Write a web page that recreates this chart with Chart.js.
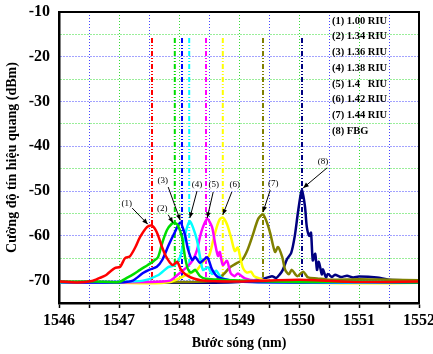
<!DOCTYPE html>
<html lang="vi">
<head>
  <meta charset="UTF-8">
  <title>Phổ tín hiệu quang</title>
  <style>
    body {
      margin: 0;
      background: #ffffff;
    }
    #wrap {
      width: 433px;
      height: 354px;
    }
  </style>
  <script src="https://cdn.jsdelivr.net/npm/chart.js"></script>
</head>
<body>
  <div id="wrap">
    <canvas id="spectrum" width="433" height="354"></canvas>
  </div>

  <script>
    // wavelength (nm) / power (dBm), one pair per trace
    const wl1 = [1546, 1546.3, 1546.55, 1546.68, 1546.78, 1546.85, 1546.93, 1547.02, 1547.1, 1547.18, 1547.27, 1547.35, 1547.47, 1547.55, 1547.63, 1547.72, 1547.78, 1547.85, 1547.9, 1547.97, 1548.03, 1548.1, 1548.2, 1548.4, 1549, 1550, 1551, 1552];
    const p1 = [-70.2, -70.4, -70.1, -69.4, -68.8, -68, -67.2, -66.9, -65, -64.6, -62.6, -60.3, -58, -57.7, -59.2, -62.6, -64.5, -66, -66.5, -65.8, -67.5, -68.5, -69.3, -70, -70.2, -69.8, -70.3, -70.2];

    const wl2 = [1546, 1546.6, 1547.0, 1547.13, 1547.25, 1547.35, 1547.48, 1547.58, 1547.65, 1547.72, 1547.8, 1547.88, 1547.93, 1547.98, 1548.05, 1548.1, 1548.15, 1548.2, 1548.27, 1548.35, 1548.45, 1549, 1550, 1551, 1552];
    const p2 = [-70.3, -70.2, -70.3, -69.4, -68.5, -67.6, -66.5, -65.6, -64.8, -61.6, -58.7, -57.3, -57.1, -57.6, -60.3, -64.7, -67.5, -68.2, -67.6, -69, -69.6, -70, -70.3, -70.2, -70.4];

    const wl3 = [1546, 1547, 1547.23, 1547.4, 1547.5, 1547.63, 1547.72, 1547.83, 1547.93, 1548.02, 1548.1, 1548.15, 1548.22, 1548.27, 1548.35, 1548.47, 1548.55, 1548.65, 1549, 1550, 1551, 1552];
    const p3 = [-70.3, -70.4, -70.0, -68.3, -67.6, -66.9, -65.4, -62, -59.2, -57.0, -59.8, -63, -65.4, -64.7, -66, -64.8, -67.5, -69.2, -70.2, -70.4, -70.3, -70.5];

    const wl4 = [1546, 1547, 1547.4, 1547.65, 1547.82, 1547.93, 1548.02, 1548.07, 1548.13, 1548.18, 1548.23, 1548.3, 1548.35, 1548.4, 1548.48, 1548.55, 1548.62, 1548.7, 1548.8, 1549, 1550, 1551, 1552];
    const p4 = [-70.4, -70.3, -70.0, -68.8, -67, -66.5, -64.7, -61.6, -58.3, -56.7, -58, -61, -64.7, -67.6, -67.0, -68.5, -67.8, -69.3, -69.8, -70.2, -70.4, -70.5, -70.4];

    const wl5 = [1546, 1547.5, 1547.85, 1547.97, 1548.13, 1548.23, 1548.3, 1548.35, 1548.4, 1548.47, 1548.55, 1548.6, 1548.65, 1548.68, 1548.73, 1548.8, 1548.86, 1548.93, 1548.98, 1549.1, 1549.3, 1550, 1551, 1552];
    const p5 = [-70.5, -70.3, -70, -68.8, -67, -65.4, -63.2, -60.2, -58, -56.2, -58, -61.6, -64.5, -63.6, -66.5, -65.6, -68.3, -69, -68.4, -69.5, -70, -70.3, -70.4, -70.5];

    const wl6 = [1546, 1547, 1547.5, 1547.85, 1548.0, 1548.15, 1548.3, 1548.4, 1548.5, 1548.57, 1548.63, 1548.68, 1548.73, 1548.8, 1548.87, 1548.93, 1548.98, 1549.03, 1549.07, 1549.13, 1549.2, 1549.25, 1549.32, 1549.45, 1550, 1551, 1552];
    const p6 = [-70.4, -70.5, -70.6, -70.3, -69.5, -68.5, -67.6, -65.8, -64.5, -61, -58, -56.3, -55.9, -57.4, -60.5, -63.4, -62.6, -65.4, -67.3, -68.2, -68, -69, -69.4, -70, -70.4, -70.6, -70.5];

    const wl7 = [1546, 1547, 1548, 1548.6, 1548.75, 1548.85, 1548.95, 1549.05, 1549.14, 1549.23, 1549.32, 1549.4, 1549.47, 1549.52, 1549.6, 1549.65, 1549.72, 1549.77, 1549.83, 1549.88, 1549.97, 1550.07, 1550.15, 1550.3, 1550.5, 1551, 1551.5, 1552];
    const p7 = [-70.2, -70.4, -70.3, -70, -68.5, -67, -66.2, -65.4, -63.2, -59.8, -56.2, -55.2, -57.2, -59.4, -63.6, -62.5, -64.7, -67.6, -68.6, -67.6, -69, -68, -69.3, -69.5, -69.8, -69.7, -69.8, -69.9];

    const wl8 = [1546, 1547, 1548, 1549, 1549.4, 1549.55, 1549.62, 1549.68, 1549.73, 1549.8, 1549.87, 1549.93, 1549.98, 1550.03, 1550.05, 1550.1, 1550.13, 1550.17, 1550.2, 1550.23, 1550.27, 1550.3, 1550.33, 1550.38, 1550.4, 1550.45, 1550.48, 1550.55, 1550.6, 1550.7, 1550.8, 1550.9, 1551, 1551.3, 1551.5, 1552];
    const p8 = [-70.4, -70.3, -70.5, -70.3, -69.6, -69.0, -69.4, -68.6, -67.6, -65.2, -63.8, -60, -55, -50.6, -49.8, -53.5, -58, -60, -59.3, -65.5, -64, -67.6, -65.8, -68.6, -67.5, -69.3, -68.5, -69.2, -68.7, -69.2, -68.9, -69.3, -69.1, -69.3, -69.8, -70];

    // vertical reference lines at each peak wavelength
    const peakWl = [1547.55, 1547.93, 1548.05, 1548.17, 1548.45, 1548.73, 1549.4, 1550.05];
    const markerTop = -15.8;
    const markerBottom = -70;

    const colors = ['#ff0000', '#00dd00', '#0000ff', '#00ffff', '#ff00ff', '#ffff00', '#808000', '#000080'];
    const legendText = ['(1) 1.00 RIU', '(2) 1.34 RIU', '(3) 1.36 RIU', '(4) 1.38 RIU', '(5) 1.4   RIU', '(6) 1.42 RIU', '(7) 1.44 RIU', '(8) FBG'];

    // callouts: label position, arrow tail, arrow head (nm, dBm)
    const calloutText = ['(1)', '(2)', '(3)', '(4)', '(5)', '(6)', '(7)', '(8)'];
    const calloutLabel = [[1547.13, -52.7], [1547.72, -54.0], [1547.73, -47.7], [1548.3, -48.6], [1548.58, -48.6], [1548.93, -48.6], [1549.57, -48.4], [1550.4, -43.5]];
    const calloutTail = [[1547.22, -53.8], [1547.82, -55.3], [1547.82, -49.1], [1548.3, -50.0], [1548.57, -50.2], [1548.88, -50.2], [1549.52, -49.8], [1550.47, -44.8]];
    const calloutHead = [[1547.48, -57.4], [1547.9, -57.1], [1548.02, -56.5], [1548.18, -56.0], [1548.47, -56.0], [1548.73, -55.3], [1549.4, -54.7], [1550.07, -49.3]];

    const wls = [wl1, wl2, wl3, wl4, wl5, wl6, wl7, wl8];
    const ps = [p1, p2, p3, p4, p5, p6, p7, p8];

    const serif = '"Liberation Serif", "Times New Roman", serif';

    const datasets = [];
    wls.forEach((wl, i) => {
      datasets.push({
        data: wl.map((x, j) => ({ x: x, y: ps[i][j] })),
        borderColor: colors[i],
        borderWidth: 2.5,
        pointRadius: 0,
        tension: 0.25,
        fill: false
      });
    });
    peakWl.forEach((x, i) => {
      datasets.push({
        data: [{ x: x, y: markerTop }, { x: x, y: markerBottom }],
        borderColor: colors[i],
        borderWidth: 2,
        borderDash: [5, 2, 1, 2, 1, 2],
        pointRadius: 0,
        fill: false
      });
    });

    const drawExtras = {
      id: 'drawExtras',
      afterDraw(chart) {
        const ctx = chart.ctx;
        const xs = chart.scales.x;
        const ys = chart.scales.y;
        const area = chart.chartArea;

        // frame
        ctx.save();
        ctx.strokeStyle = '#000';
        ctx.lineWidth = 2;
        ctx.strokeRect(area.left, area.top, area.right - area.left, area.bottom - area.top);

        // legend text
        ctx.fillStyle = '#000';
        ctx.font = 'bold 10.5px ' + serif;
        ctx.textBaseline = 'middle';
        ctx.textAlign = 'left';
        legendText.forEach((t, i) => {
          ctx.fillText(t, area.left + 273, area.top + 9 + i * 15.7);
        });

        // callouts
        ctx.font = '9px ' + serif;
        ctx.textAlign = 'center';
        ctx.lineWidth = 1;
        calloutText.forEach((t, i) => {
          const lx = xs.getPixelForValue(calloutLabel[i][0]);
          const ly = ys.getPixelForValue(calloutLabel[i][1]);
          ctx.fillText(t, lx, ly);
          const tx = xs.getPixelForValue(calloutTail[i][0]);
          const ty = ys.getPixelForValue(calloutTail[i][1]);
          const hx = xs.getPixelForValue(calloutHead[i][0]);
          const hy = ys.getPixelForValue(calloutHead[i][1]);
          ctx.beginPath();
          ctx.moveTo(tx, ty);
          ctx.lineTo(hx, hy);
          ctx.stroke();
          const a = Math.atan2(hy - ty, hx - tx);
          ctx.beginPath();
          ctx.moveTo(hx, hy);
          ctx.lineTo(hx - 6 * Math.cos(a - 0.4), hy - 6 * Math.sin(a - 0.4));
          ctx.lineTo(hx - 6 * Math.cos(a + 0.4), hy - 6 * Math.sin(a + 0.4));
          ctx.closePath();
          ctx.fill();
        });
        ctx.restore();
      }
    };

    new Chart(document.getElementById('spectrum'), {
      type: 'line',
      data: { datasets: datasets },
      options: {
        responsive: false,
        animation: false,
        layout: { padding: { left: 0, right: 14, top: 12, bottom: 0 } },
        plugins: {
          legend: { display: false },
          tooltip: { enabled: false }
        },
        scales: {
          x: {
            type: 'linear',
            min: 1546,
            max: 1552,
            afterFit: s => {
              s.height = 51;
              s.paddingLeft = 0;
              s.paddingRight = 0;
            },
            ticks: {
              stepSize: 0.5,
              padding: 3,
              color: '#000',
              font: { family: serif, size: 16, weight: 'bold' },
              maxRotation: 0,
              autoSkip: false,
              callback: v => Number.isInteger(v) ? String(v) : ''
            },
            grid: {
              color: c => Number.isInteger(c.tick.value) ? '#33dd33' : '#4444ff',
              lineWidth: 1,
              tickColor: '#000',
              tickLength: 5,
              tickWidth: 1.5,
              tickBorderDash: []
            },
            border: { color: '#000', width: 2.5, dash: [1, 2] },
            title: {
              display: true,
              text: 'Bước sóng (nm)',
              color: '#000',
              font: { family: serif, size: 14, weight: 'bold' },
              padding: { top: 0, bottom: 2 }
            }
          },
          y: {
            min: -75,
            max: -10,
            afterFit: s => {
              s.width = 59;
              s.paddingTop = 0;
              s.paddingBottom = 0;
            },
            ticks: {
              stepSize: 5,
              padding: 9,
              autoSkip: false,
              color: '#000',
              font: { family: serif, size: 16, weight: 'bold' },
              callback: v => Math.abs(v % 10) < 1e-9 ? String(v) : ''
            },
            grid: {
              color: c => Math.abs(c.tick.value % 10) < 1e-9 ? '#4444ff' : '#33dd33',
              lineWidth: 1,
              drawTicks: false
            },
            border: { color: '#000', width: 2.5, dash: [1, 2] },
            title: {
              display: true,
              text: 'Cường độ tín hiệu quang (dBm)',
              color: '#000',
              font: { family: serif, size: 14, weight: 'bold' },
              padding: { top: 4, bottom: 0 }
            }
          }
        }
      },
      plugins: [drawExtras]
    });
  </script>
</body>
</html>
